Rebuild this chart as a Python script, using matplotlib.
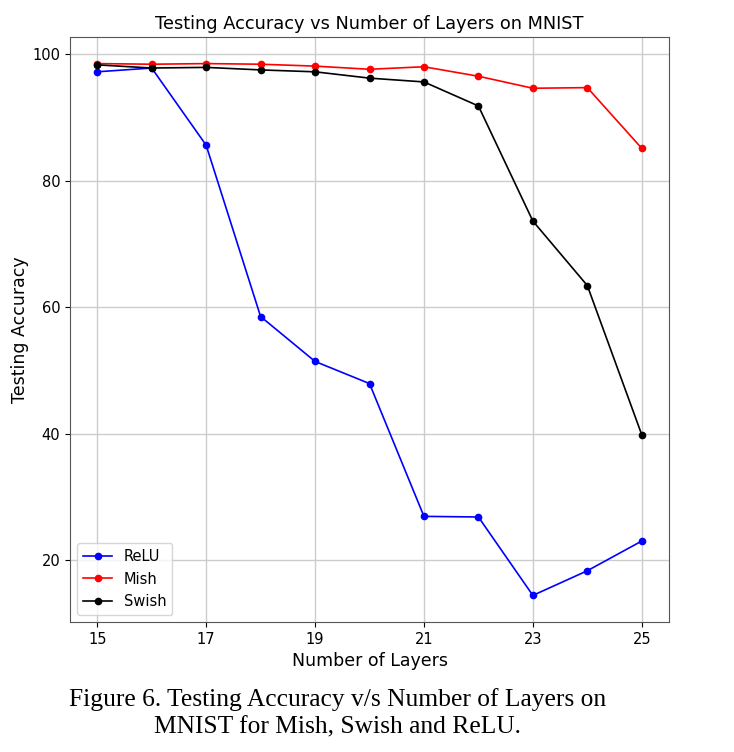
import matplotlib
matplotlib.use('Agg')
import matplotlib.pyplot as plt

# data
layers = [15, 16, 17, 18, 19, 20, 21, 22, 23, 24, 25]
relu = [97.2, 97.8, 85.6, 58.5, 51.4, 47.9, 26.9, 26.8, 14.4, 18.3, 23.0]
mish = [98.5, 98.4, 98.5, 98.4, 98.1, 97.6, 98.0, 96.5, 94.6, 94.7, 85.1]
swish = [98.3, 97.8, 97.9, 97.5, 97.2, 96.2, 95.6, 91.8, 73.6, 63.4, 39.8]
x_ticks = [15, 17, 19, 21, 23, 25]
y_ticks = [20, 40, 60, 80, 100]

fig = plt.figure(figsize=(7.34, 7.52), dpi=100)
ax = fig.add_axes([70 / 734, 1 - 622 / 752, 599 / 734, 585 / 752])

ax.plot(layers, relu, color='b', marker='o', markersize=4.5, linewidth=1.2, label='ReLU')
ax.plot(layers, mish, color='r', marker='o', markersize=4.5, linewidth=1.2, label='Mish')
ax.plot(layers, swish, color='k', marker='o', markersize=4.5, linewidth=1.2, label='Swish')

ax.set_xticks(x_ticks)
ax.set_yticks(y_ticks)
ax.tick_params(labelsize=10.5)
ax.grid(True, color='#cccccc', linewidth=1.0)
ax.set_axisbelow(True)
for s in ax.spines.values():
    s.set_color('#555555')

ax.set_title('Testing Accuracy vs Number of Layers on MNIST', fontsize=12.8, pad=6)
ax.set_xlabel('Number of Layers', fontsize=12.5)
ax.set_ylabel('Testing Accuracy', fontsize=12.5, labelpad=2)
ax.legend(loc='lower left', fontsize=10.5)

fig.text(0.46, 1 - 700 / 752, 'Figure 6. Testing Accuracy v/s Number of Layers on',
         family='Liberation Serif', fontsize=18.4, ha='center', va='center')
fig.text(0.46, 1 - 727 / 752, 'MNIST for Mish, Swish and ReLU.',
         family='Liberation Serif', fontsize=18.4, ha='center', va='center')

plt.savefig('out.png', dpi=100)
